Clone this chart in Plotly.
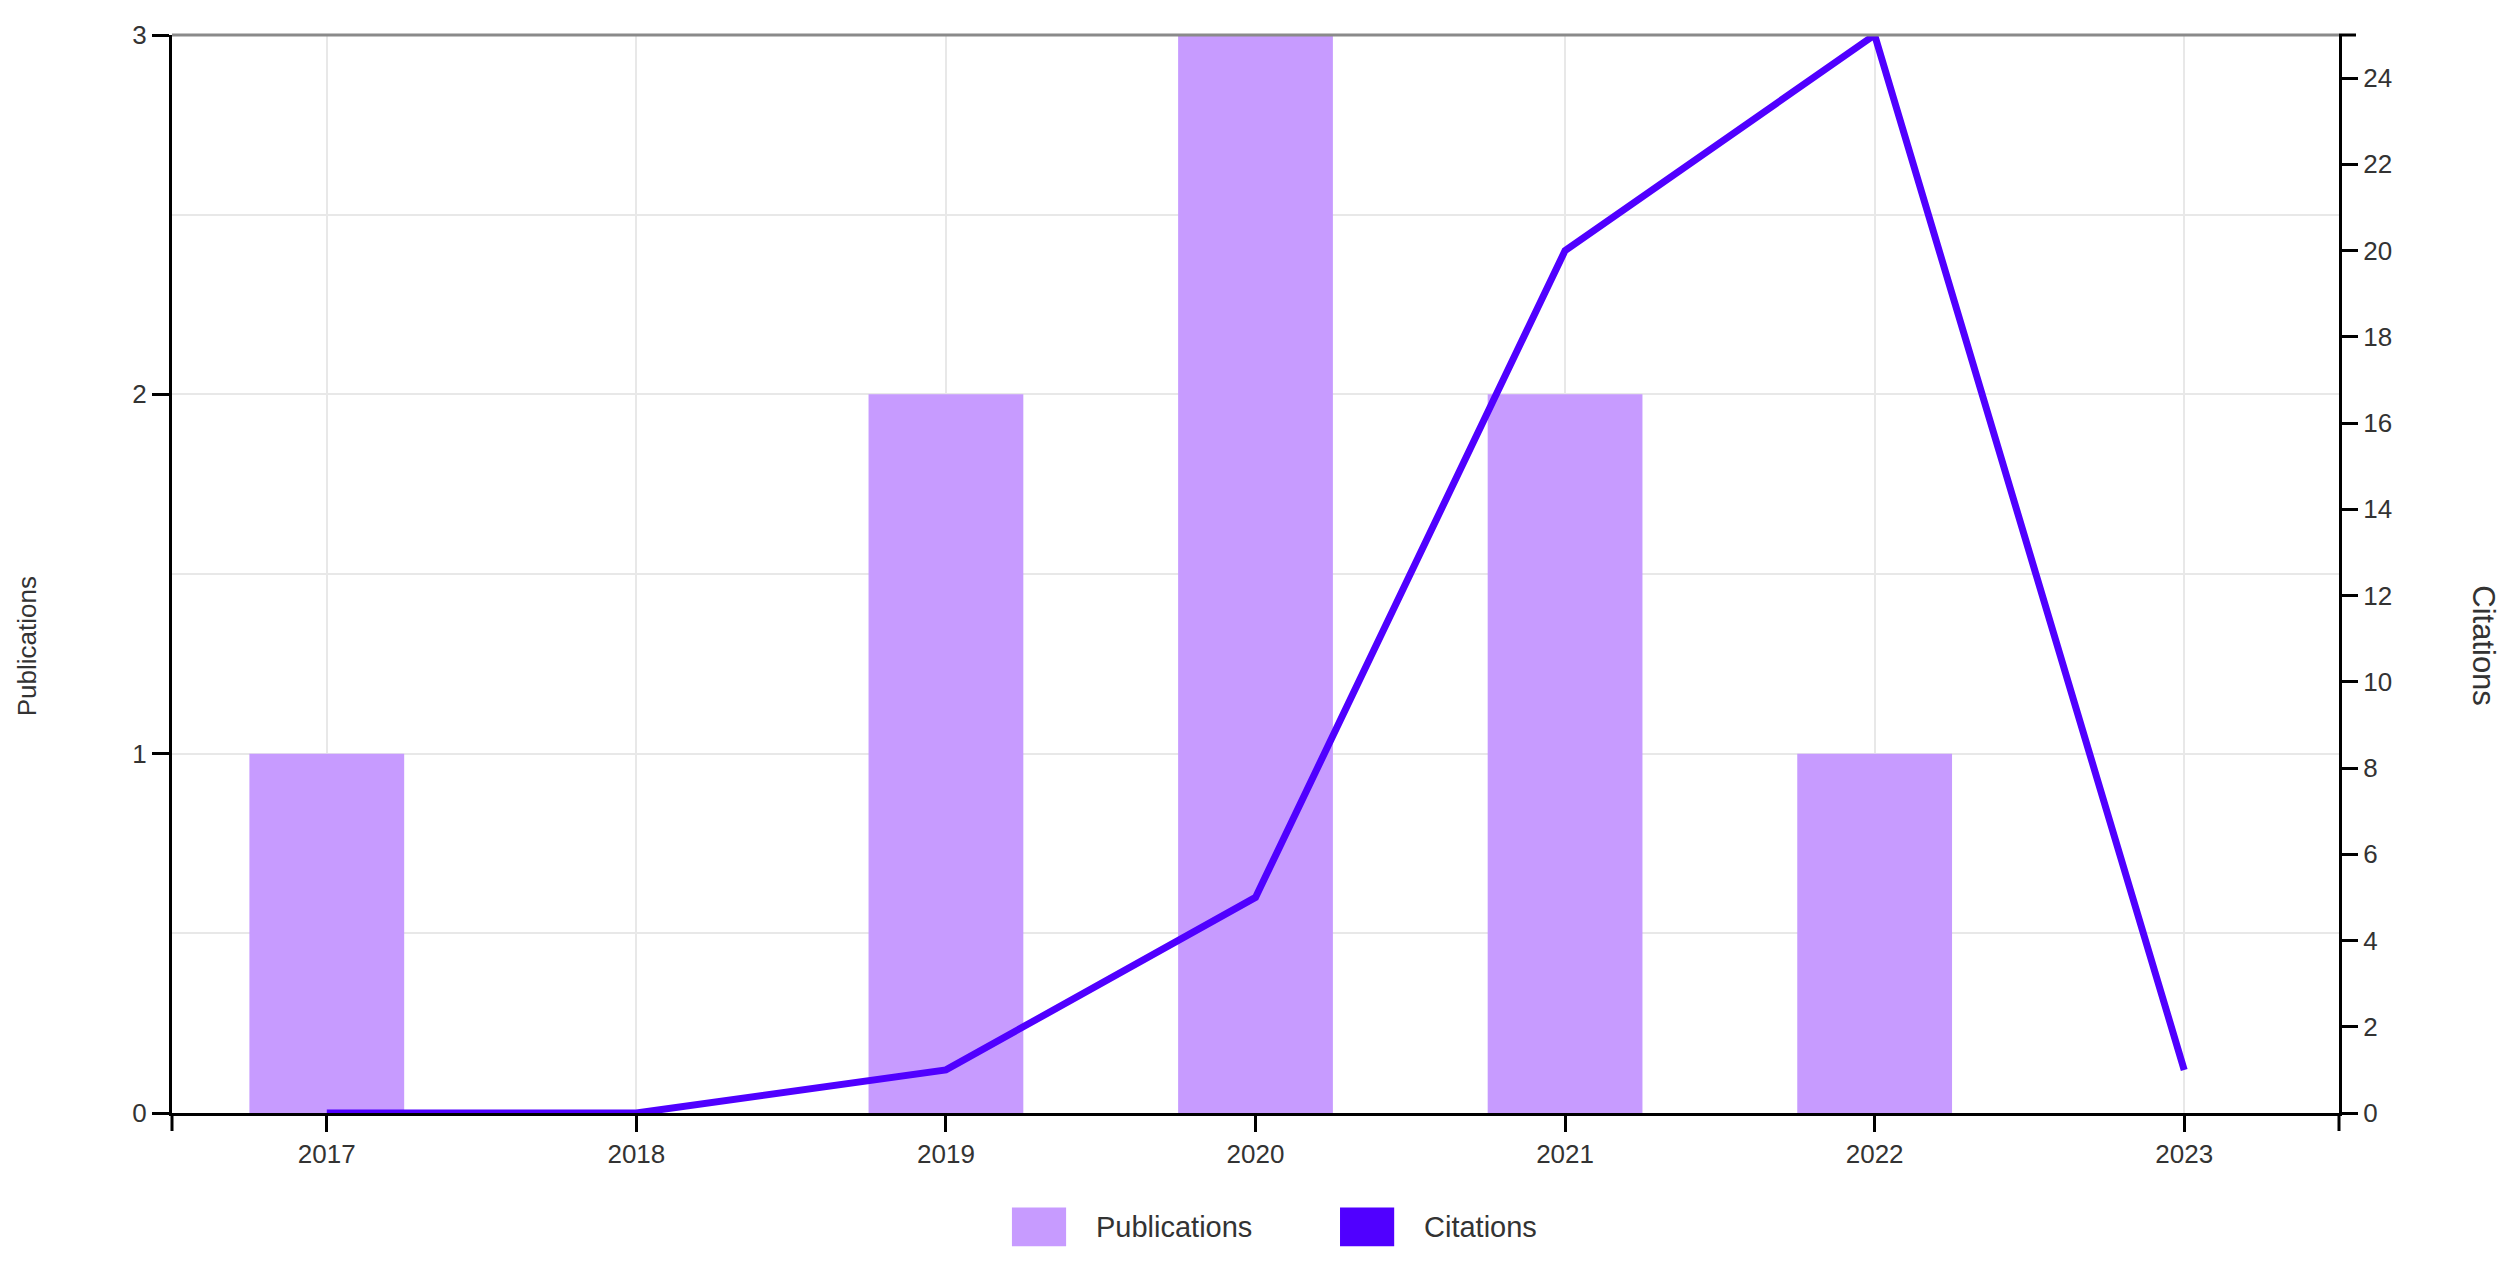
import plotly.graph_objects as go

# Данные
years = ["2017", "2018", "2019", "2020", "2021", "2022", "2023"]
publications = [1, 0, 2, 3, 2, 1, 0]
citations = [0, 0, 1, 5, 20, 25, 1]

BAR_COLOR = "#c79bff"
LINE_COLOR = "#5000ff"
FONT = "Arial, Liberation Sans, sans-serif"
TEXT_COLOR = "#333333"

fig = go.Figure()

fig.add_trace(go.Bar(
    name="Publications",
    x=years,
    y=publications,
    width=0.5,
    marker=dict(color=BAR_COLOR, line=dict(width=0)),
    showlegend=False,
    yaxis="y"
))

fig.add_trace(go.Scatter(
    name="Citations",
    x=years,
    y=citations,
    mode="lines",
    line=dict(color=LINE_COLOR, width=7),
    showlegend=False,
    yaxis="y2"
))

# Своя легенда с крупными квадратами
legend_items = [("Publications", BAR_COLOR, 0.3876), ("Citations", LINE_COLOR, 0.539)]
shapes = []
annotations = []
for label, color, x0 in legend_items:
    shapes.append(dict(
        type="rect", xref="paper", yref="paper",
        x0=x0, x1=x0 + 0.025, y0=-0.0877, y1=-0.1237,
        fillcolor=color, line=dict(width=0)
    ))
    annotations.append(dict(
        text=label, xref="paper", yref="paper",
        x=x0 + 0.038, y=-0.1057, xanchor="left", yanchor="middle",
        showarrow=False, font=dict(size=29, color=TEXT_COLOR, family=FONT)
    ))

# Подписи осей (центрированы по высоте страницы, а не области графика)
annotations.append(dict(
    text="Publications", xref="paper", yref="paper", x=-0.0669, y=0.433,
    textangle=-90, showarrow=False, xanchor="center", yanchor="middle",
    font=dict(size=26, color=TEXT_COLOR, family=FONT)
))
annotations.append(dict(
    text="Citations", xref="paper", yref="paper", x=1.0669, y=0.433,
    textangle=90, showarrow=False, xanchor="center", yanchor="middle",
    font=dict(size=31, color=TEXT_COLOR, family=FONT)
))

# Верхняя серая граница и крайние засечки осей
shapes.append(dict(type="line", xref="paper", yref="paper", x0=0, x1=1, y0=1, y1=1,
                   line=dict(color="#8a8a8a", width=3), layer="above"))
for xe in (0, 1):
    shapes.append(dict(type="line", xref="paper", yref="paper", x0=xe, x1=xe,
                       ysizemode="pixel", yanchor=0, y0=0, y1=-18,
                       line=dict(color="black", width=3)))
shapes.append(dict(type="line", xref="paper", yref="paper", y0=1, y1=1,
                   xsizemode="pixel", xanchor=1, x0=0, x1=17,
                   line=dict(color="black", width=3)))

fig.update_layout(
    width=2503,
    height=1248,
    plot_bgcolor="white",
    paper_bgcolor="white",
    font=dict(family=FONT, size=26, color=TEXT_COLOR),
    margin=dict(l=164, r=172, t=22, b=143),
    bargap=0.5,
    shapes=shapes,
    annotations=annotations,
    xaxis=dict(
        type="category",
        range=[-0.5, 6.5],
        showgrid=True,
        gridcolor="#e8e8e8",
        gridwidth=2,
        showline=True,
        linecolor="black",
        linewidth=3,
        ticks="outside",
        ticklen=16,
        tickwidth=3,
        tickcolor="black",
        tickfont=dict(size=26),
        zeroline=False
    ),
    yaxis=dict(
        range=[0, 3],
        dtick=1,
        showgrid=True,
        gridcolor="#e8e8e8",
        gridwidth=2,
        minor=dict(dtick=0.5, showgrid=True, gridcolor="#e8e8e8", gridwidth=2, ticks=""),
        showline=True,
        linecolor="black",
        linewidth=3,
        ticks="outside",
        ticklen=17,
        tickwidth=3,
        tickcolor="black",
        zeroline=False
    ),
    yaxis2=dict(
        overlaying="y",
        side="right",
        range=[0, 25],
        dtick=2,
        showgrid=False,
        showline=True,
        linecolor="black",
        linewidth=3,
        ticks="outside",
        ticklen=16,
        tickwidth=3,
        tickcolor="black",
        zeroline=False
    )
)

fig.write_html("out.html")
